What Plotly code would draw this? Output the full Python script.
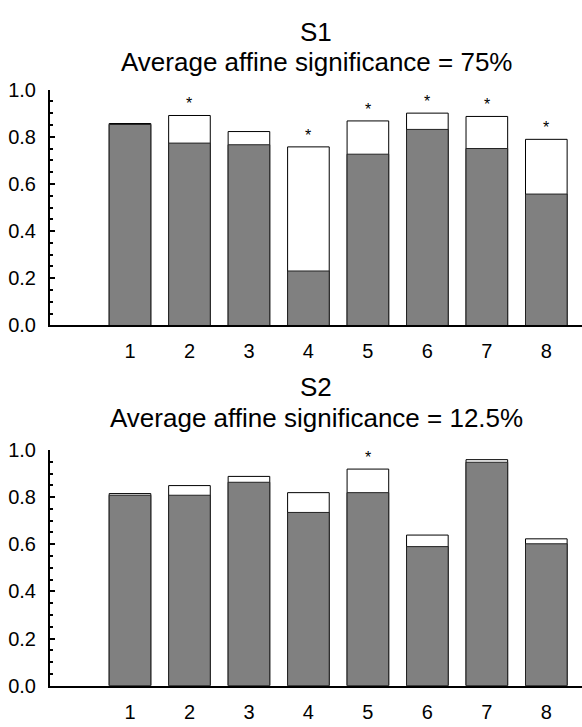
import plotly.graph_objects as go

categories = [1, 2, 3, 4, 5, 6, 7, 8]

s1_total = [0.856, 0.890, 0.822, 0.757, 0.867, 0.900, 0.886, 0.789]
s1_gray = [0.852, 0.773, 0.766, 0.231, 0.726, 0.831, 0.750, 0.557]
s1_sig = [0, 1, 0, 1, 1, 1, 1, 1]

s2_total = [0.815, 0.849, 0.888, 0.819, 0.919, 0.639, 0.959, 0.623]
s2_gray = [0.808, 0.808, 0.863, 0.735, 0.819, 0.590, 0.948, 0.602]
s2_sig = [0, 0, 0, 0, 1, 0, 0, 0]

panel_titles = ["S1", "S2"]
panel_subtitles = ["Average affine significance = 75%", "Average affine significance = 12.5%"]

W, H = 582, 727
FONT = "Liberation Sans, Arial, Helvetica, sans-serif"

fig = go.Figure()

def py(px):
    return 1 - px / H

panels = [
    dict(total=s1_total, gray=s1_gray, sig=s1_sig, xa="x", ya="y", t1=26.7, t2=58.3),
    dict(total=s2_total, gray=s2_gray, sig=s2_sig, xa="x2", ya="y2", t1=393.3, t2=425),
]

annotations = []
for i, p in enumerate(panels):
    fig.add_trace(go.Bar(x=categories, y=p["total"], width=0.7, xaxis=p["xa"], yaxis=p["ya"],
                         marker=dict(color="white", line=dict(color="black", width=1)),
                         showlegend=False, hoverinfo="skip"))
    fig.add_trace(go.Bar(x=categories, y=p["gray"], width=0.7, xaxis=p["xa"], yaxis=p["ya"],
                         marker=dict(color="#808080", line=dict(color="#222222", width=1)),
                         showlegend=False))
    for c, t, s in zip(categories, p["total"], p["sig"]):
        if s:
            annotations.append(dict(x=c, y=t, xref=p["xa"], yref=p["ya"], text="*",
                                    showarrow=False, yanchor="bottom", yshift=1,
                                    font=dict(size=16, color="black", family=FONT)))
    annotations.append(dict(x=316 / W, y=py(p["t1"] - 5.5), xref="paper", yref="paper",
                            text=panel_titles[i], showarrow=False, yanchor="middle",
                            font=dict(size=26, color="black", family=FONT)))
    annotations.append(dict(x=316 / W, y=py(p["t2"] - 5.5), xref="paper", yref="paper",
                            text=panel_subtitles[i], showarrow=False, yanchor="middle",
                            font=dict(size=26, color="black", family=FONT)))

xdom = [50 / W, 1.0]
xaxis_common = dict(range=[-0.345, 8.6], domain=xdom, showline=True, linewidth=2, linecolor="black",
                    showgrid=False, zeroline=False, ticks="", tickvals=categories,
                    ticktext=[str(c) for c in categories], ticklabelstandoff=7,
                    tickfont=dict(size=20, color="black", family=FONT), fixedrange=True)
yaxis_common = dict(range=[0, 1.0], showline=True, linewidth=2, linecolor="black", showgrid=False,
                    zeroline=False, ticks="inside", ticklen=5, tickwidth=1.5, tickcolor="black",
                    tickvals=[0, 0.2, 0.4, 0.6, 0.8, 1.0], ticktext=["0.0", "0.2", "0.4", "0.6", "0.8", "1.0"],
                    minor=dict(dtick=0.05, ticks="inside", ticklen=3, tickwidth=1.5, tickcolor="black", showgrid=False),
                    ticklabelstandoff=8,
                    tickfont=dict(size=20, color="black", family=FONT), fixedrange=True)

fig.update_layout(
    width=W, height=H,
    margin=dict(l=0, r=0, t=0, b=0),
    paper_bgcolor="white", plot_bgcolor="white",
    barmode="overlay",
    xaxis=dict(**xaxis_common, anchor="y"),
    yaxis=dict(**yaxis_common, domain=[py(324.3), py(81)], anchor="x"),
    xaxis2=dict(**xaxis_common, anchor="y2"),
    yaxis2=dict(**yaxis_common, domain=[py(695.7), py(452.7)], anchor="x2"),
    annotations=annotations,
    font=dict(family=FONT, color="black"),
)

fig.write_html("out.html", config={"displayModeBar": False},
               post_script="document.body.style.margin='0';document.body.style.overflow='hidden';")
